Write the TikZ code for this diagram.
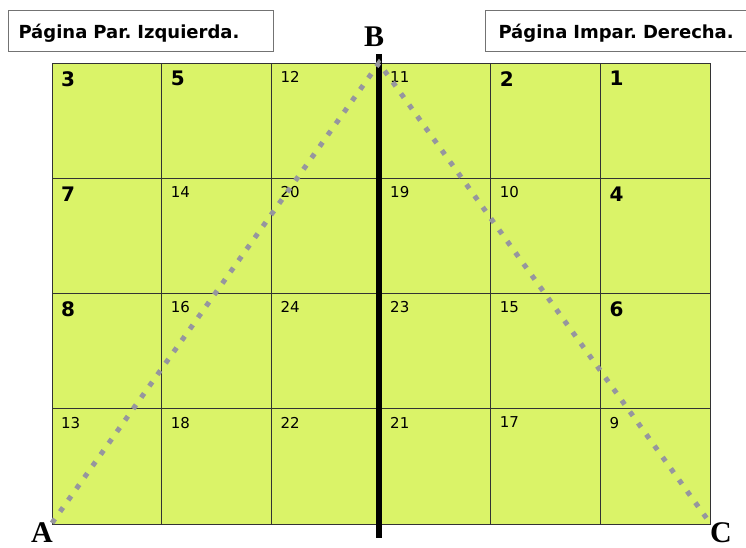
\documentclass[tikz,border=0pt]{standalone}
\usepackage{fontspec}
\setmainfont{DejaVu Sans}
\newfontfamily\letterfont{Liberation Serif}
\usetikzlibrary{positioning}
\definecolor{cellgreen}{RGB}{218,243,104}
\definecolor{dotgray}{RGB}{150,150,158}
\frenchspacing

\begin{document}
\begin{tikzpicture}[x=1pt, y=-1pt,
    cell/.style={draw=black!80, line width=0.8pt, fill=cellgreen,
        minimum width=109.67pt, minimum height=115.25pt, inner sep=0pt, outer sep=0pt},
    num/.style={anchor=north west, inner sep=0pt, font=\fontsize{15}{15}\selectfont},
    bignum/.style={anchor=north west, inner sep=0pt, font=\fontsize{20}{20}\selectfont\bfseries},
    pagebox/.style={draw=black!55, line width=1pt, fill=white, anchor=west,
        minimum height=41pt, inner sep=0pt, text depth=0pt, text width=265pt,
        font=\fontsize{18}{18}\selectfont\bfseries, align=left},
    corner/.style={inner sep=0pt, font=\fontsize{30}{30}\selectfont\letterfont\bfseries}]
    \useasboundingbox (0,0) rectangle (746,548);
    % grid of pages
    \foreach \n/\s [count=\i from 0] in {3/bignum,5/bignum,12/num,11/num,2/bignum,1/bignum,
        7/bignum,14/num,20/num,19/num,10/num,4/bignum,
        8/bignum,16/num,24/num,23/num,15/num,6/bignum,
        13/num,18/num,22/num,21/num,17/num,9/num} {
        \pgfmathtruncatemacro\c{mod(\i,6)}
        \pgfmathtruncatemacro\r{div(\i,6)}
        \node[cell] (c\r\c) at ({52+109.67*(\c+0.5)},{63+115.25*(\r+0.5)}) {};
        \node[\s] (n\r\c) at ([xshift=9pt,yshift=-8pt]c\r\c.north west) {\n};
    }
    % page labels
    \node[pagebox] (par) at (8,31) {\hspace*{10pt}Página Par. Izquierda.};
    \node[pagebox] (impar) at (485,31) {\hspace*{13pt}Página Impar. Derecha.};
    % fold line
    \coordinate (spinetop) at (379,54);
    \coordinate (spinebot) at (379,538);
    \draw[line width=6pt] (spinetop) -- (spinebot);
    % triangle
    \coordinate (A) at (52,523);
    \coordinate (B) at (379,63);
    \coordinate (C) at (710,523);
    \draw[dotgray, line width=5pt, dash pattern=on 5pt off 9pt] (A) -- (B) -- (C);
    \node[corner] (la) at (42,533) {A};
    \node[corner] (lb) at (374,37) {B};
    \node[corner] (lc) at (721,533) {C};
\end{tikzpicture}
\end{document}
